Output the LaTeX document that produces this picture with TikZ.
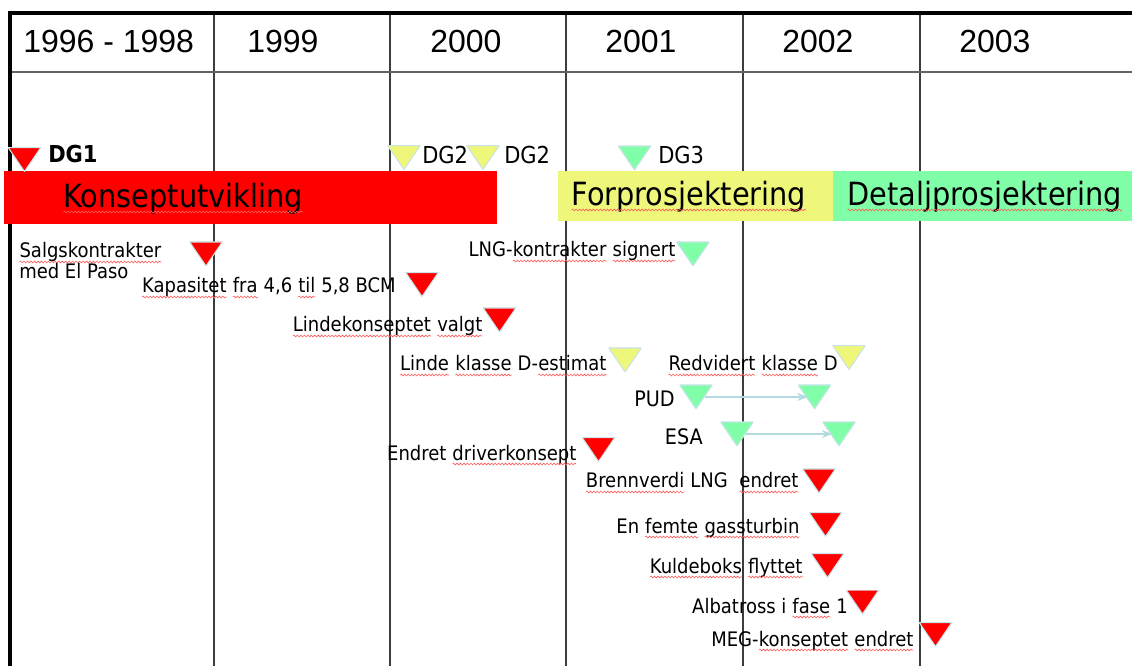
\documentclass[tikz,border=0pt]{standalone}
\usepackage{fontspec}
\setmainfont{DejaVu Sans Condensed}
\newfontfamily\hdrfont{Liberation Sans}
\usetikzlibrary{arrows.meta,decorations.pathmorphing}

\definecolor{barred}{HTML}{FF0000}
\definecolor{baryellow}{HTML}{EEF77A}
\definecolor{bargreen}{HTML}{80FFA8}
\definecolor{triedge}{HTML}{C8E4E8}
\definecolor{flowblue}{HTML}{B4DCE0}
\definecolor{gridgray}{HTML}{3C3C3C}
\definecolor{spellred}{HTML}{FF5A5A}

% word with a wavy red underline
\newcommand\spl[1]{\tikz[baseline=(sw.base), x=1pt, y=1pt]{%
  \node[inner sep=0pt, outer sep=0pt, anchor=base, draw=none, fill=none] (sw) {#1};%
  \draw[spellred, line width=0.45pt, decorate, decoration={snake, amplitude=0.7pt, segment length=2.6pt}]
    ([yshift=-3pt]sw.base west) -- ([yshift=-3pt]sw.base east);}}

\tikzset{
  milestone/.style={minimum width=24.5pt, minimum height=18pt, inner sep=0pt, outer sep=0pt,
    path picture={\fill[#1, draw=triedge, line width=0.8pt]
      (path picture bounding box.north west) -- (path picture bounding box.north east)
      -- (path picture bounding box.south) -- cycle;}},
  year/.style={font=\hdrfont\fontsize{24}{28}\selectfont, inner sep=0pt, anchor=base west},
  phase/.style={font=\fontsize{24}{28}\selectfont, inner sep=0pt, anchor=base west},
  gate/.style={font=\fontsize{17.5}{20}\selectfont, inner sep=0pt, anchor=base west},
  event/.style={font=\fontsize{15}{18}\selectfont, inner sep=0pt, anchor=base east},
  flow/.style={draw=flowblue, line width=1.3pt, -{Stealth[length=8pt, width=6pt]}},
  gridline/.style={draw=gridgray, line width=1.5pt},
}

\begin{document}
\begin{tikzpicture}[x=0.75pt, y=-0.75pt]
\useasboundingbox (0,0) rectangle (1132,666);
\fill[white] (0,0) rectangle (1132,666);

% table grid
\foreach \x in {214,390,566,743,920} \draw[gridline] (\x,13) -- (\x,666);
\draw[gridline, draw=gridgray!80] (10,72) -- (1132,72);
\draw[line width=2.4pt] (10,13) -- (1132,13);
\draw[line width=2.4pt] (10,11.5) -- (10,666);

% year headings
\node[year] (y9698) at (23,53) {1996 - 1998};
\node[year] (y1999) at (247,53) {1999};
\node[year] (y2000) at (430,53) {2000};
\node[year] (y2001) at (605,53) {2001};
\node[year] (y2002) at (782,53) {2002};
\node[year] (y2003) at (959,53) {2003};

% project phases
\fill[barred] (4,171) rectangle (497,224);
\fill[baryellow] (558,171) rectangle (833,221);
\fill[bargreen] (833,171) rectangle (1132,221);
\node[phase] (konsept) at (63,208) {\spl{Konseptutvikling}};
\node[phase] (forpro) at (571,206) {\spl{Forprosjektering}};
\node[phase] (detalj) at (847,206) {\spl{Detaljprosjektering}};

% decision gates
\node[milestone=barred] (dg1) at (24.5,159.5) {};
\node[milestone=baryellow] (dg2a) at (404,157.5) {};
\node[milestone=baryellow] (dg2b) at (483,157.5) {};
\node[milestone=bargreen] (dg3) at (634.5,158) {};
\node[gate, font=\fontsize{17.5}{20}\selectfont\bfseries] (dg1t) at (48,163) {DG1};
\node[gate] (dg2at) at (422,164) {DG2};
\node[gate] (dg2bt) at (504,164) {DG2};
\node[gate] (dg3t) at (658,164) {DG3};

% events
\node[font=\fontsize{15}{15.75}\selectfont, inner sep=0pt, anchor=base west, align=left] (salgt) at (19,279)
  {\spl{Salgskontrakter}\\med El Paso};
\node[milestone=barred] (salg) at (206,254) {};

\node[event] (kapt) at (396,293) {\spl{Kapasitet} \spl{fra} 4,6 \spl{til} 5,8 BCM};
\node[milestone=barred] (kap) at (422,284.5) {};

\node[event] (lindet) at (483,332) {\spl{Lindekonseptet} \spl{valgt}};
\node[milestone=barred] (linde) at (499.5,320) {};

\node[event] (lngt) at (676,257) {LNG-\spl{kontrakter} \spl{signert}};
\node[milestone=bargreen] (lng) at (693,254) {};

\node[event] (lkdt) at (607,371) {\spl{Linde} \spl{klasse} D-\spl{estimat}};
\node[milestone=baryellow] (lkd) at (625,360) {};

\node[event] (rkdt) at (838,371) {\spl{Redvidert} \spl{klasse} D};
\node[milestone=baryellow] (rkd) at (849,357.5) {};

\node[event, font=\fontsize{16}{18}\selectfont] (pudt) at (675,407) {PUD};
\node[milestone=bargreen] (pud1) at (696,397) {};
\node[milestone=bargreen] (pud2) at (814.5,397) {};

\node[event, font=\fontsize{16}{18}\selectfont] (esat) at (703,445) {ESA};
\node[milestone=bargreen] (esa1) at (737,434) {};
\node[milestone=bargreen] (esa2) at (839,434) {};

\node[event] (drivert) at (577,460) {Endret \spl{driverkonsept}};
\node[milestone=barred] (driver) at (598.5,449.5) {};

\node[event] (brennt) at (799,488) {\spl{Brennverdi} LNG \ \spl{endret}};
\node[milestone=barred] (brenn) at (819,481) {};

\node[event] (femtet) at (800,533) {En \spl{femte} \spl{gassturbin}};
\node[milestone=barred] (femte) at (825.5,524.5) {};

\node[event] (kuldet) at (803,573) {\spl{Kuldeboks} \spl{flyttet}};
\node[milestone=barred] (kulde) at (827.5,565.5) {};

\node[event] (albat) at (848,613) {Albatross i \spl{fase} 1};
\node[milestone=barred] (alba) at (862.5,602) {};

\node[event] (megt) at (914,646) {MEG-\spl{konseptet} \spl{endret}};
\node[milestone=barred] (meg) at (935.5,634.5) {};

% shifted milestones
\draw[flow, shorten <=7pt, shorten >=5pt] (pud1.center) -- (pud2.center);
\draw[flow, shorten <=7pt, shorten >=5pt] (esa1.center) -- (esa2.center);
\end{tikzpicture}
\end{document}
